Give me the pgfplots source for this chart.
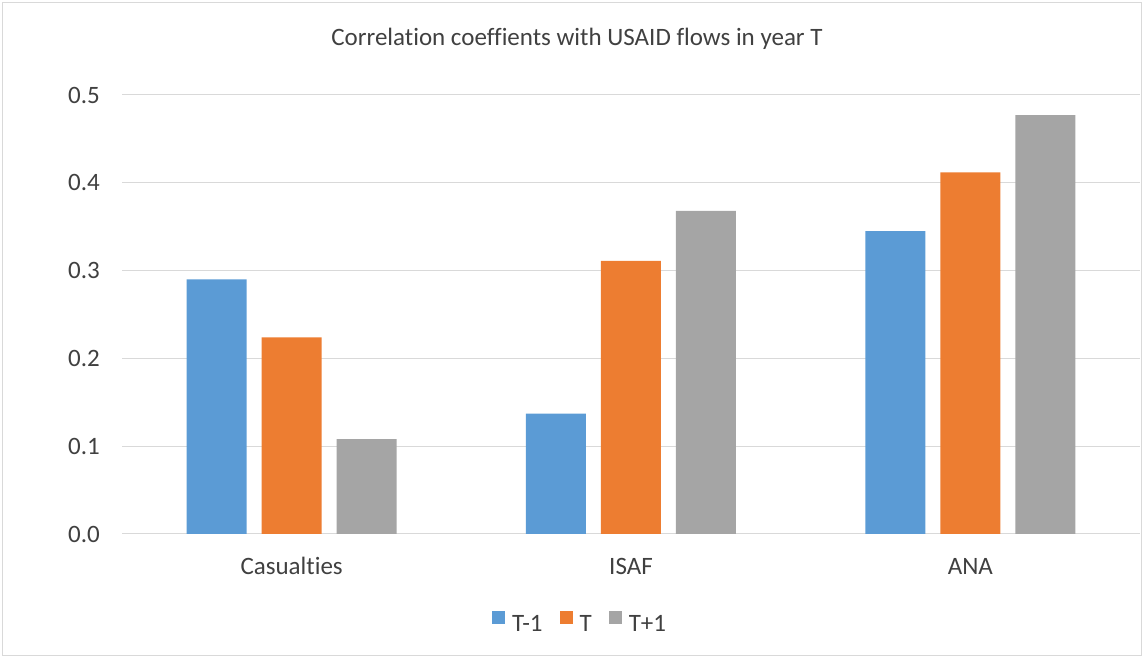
\documentclass[border=0pt]{standalone}
\usepackage{fontspec}
\setmainfont{Carlito}[Ligatures={NoCommon}]
\usepackage{pgfplots}
\pgfplotsset{compat=1.18}
\definecolor{cblue}{HTML}{5B9BD5}
\definecolor{corange}{HTML}{ED7D31}
\definecolor{cgray}{HTML}{A5A5A5}
\definecolor{gridc}{HTML}{D9D9D9}
\definecolor{txt}{HTML}{404040}
\begin{document}
\begin{tikzpicture}
\path[use as bounding box] (0pt,0pt) rectangle (1143pt,658pt);
\draw[gridc, line width=1pt] (2.5pt,2.5pt) rectangle (1141.5pt,655.5pt);
\node[anchor=base, font=\fontsize{25}{30}\selectfont, text=txt, inner sep=0pt] at (577pt,612pt) {Correlation coeffients with USAID flows in year T};
\begin{axis}[
  at={(122pt,124pt)}, anchor=south west,
  scale only axis, width=1018pt, height=439pt,
  ybar=15pt, bar width=60pt,
  xmin=-0.5, xmax=2.5, ymin=0, ymax=0.5,
  xtick={0,1,2}, xticklabels={Casualties,ISAF,ANA},
  ytick={0,0.1,0.2,0.3,0.4,0.5},
  /pgf/number format/fixed, /pgf/number format/fixed zerofill,
  /pgf/number format/precision=1, /pgf/number format/assume math mode=true,
  ytick style={draw=none}, xtick style={draw=none},
  major tick length=0pt,
  axis line style={draw=none},
  ymajorgrids, grid style={gridc, line width=1pt},
  font=\fontsize{25}{30}\selectfont,
  tick label style={text=txt},
  yticklabel style={anchor=east, inner sep=0pt, xshift=-22pt},
  xticklabel style={anchor=base, inner sep=0pt, yshift=-41pt},
  legend style={at={(axis description cs:0.449,-0.2)}, anchor=center, draw=none, fill=none,
    legend columns=-1, font=\fontsize{25}{30}\selectfont, text=txt,
    nodes={inner sep=0pt},
    /tikz/every odd column/.append style={column sep=7pt},
    /tikz/every even column/.append style={column sep=17pt}},
  legend image code/.code={\fill[#1] (0pt,0pt) rectangle (13pt,13pt);},
]
\addplot[fill=cblue, draw=none] coordinates {(0,0.290) (1,0.137) (2,0.345)};
\addplot[fill=corange, draw=none] coordinates {(0,0.224) (1,0.311) (2,0.412)};
\addplot[fill=cgray, draw=none] coordinates {(0,0.108) (1,0.368) (2,0.477)};
\legend{T-1,T,T+1}
\end{axis}
\end{tikzpicture}
\end{document}
